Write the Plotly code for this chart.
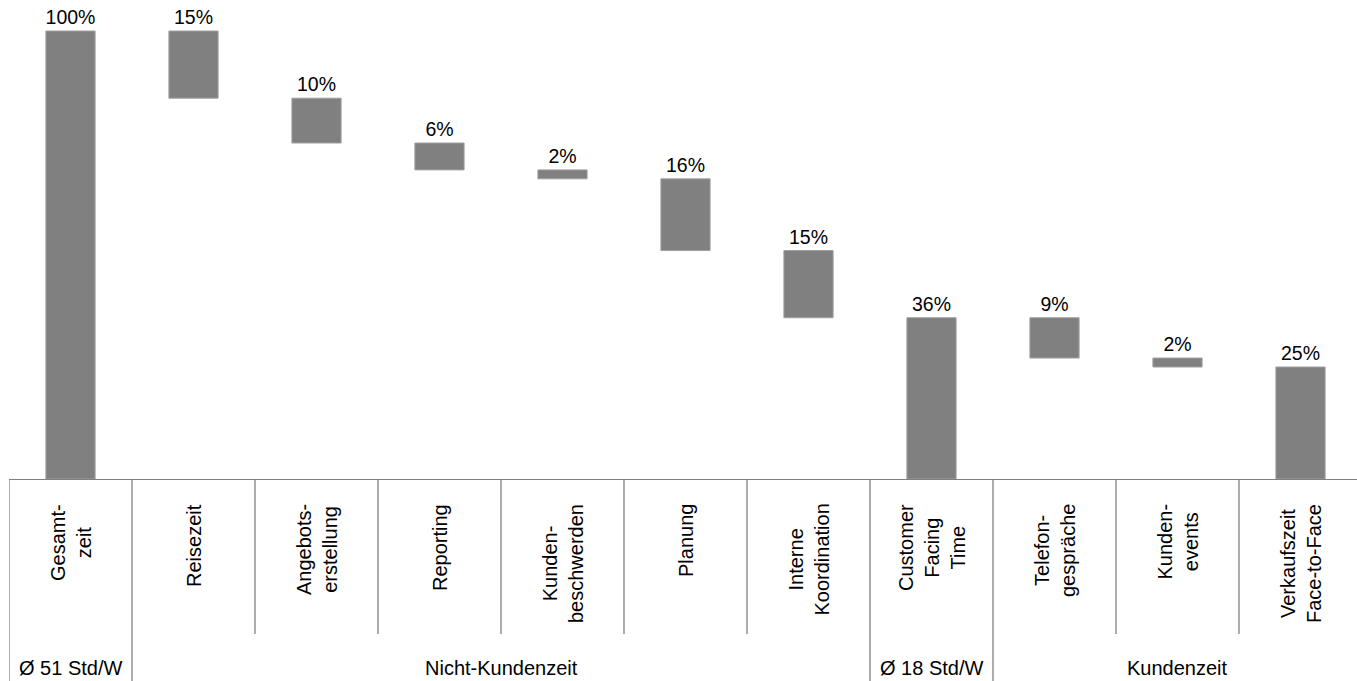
import plotly.graph_objects as go

# ---- data ----
categories = ["Gesamt-<br>zeit", "Reisezeit", "Angebots-<br>erstellung", "Reporting",
              "Kunden-<br>beschwerden", "Planung", "Interne<br>Koordination",
              "Customer<br>Facing<br>Time", "Telefon-<br>gespräche", "Kunden-<br>events",
              "Verkaufszeit<br>Face-to-Face"]
values = [100, 15, 10, 6, 2, 16, 15, 36, 9, 2, 25]
measures = ["total", "relative", "relative", "relative", "relative", "relative", "relative",
            "total", "relative", "relative", "total"]
group_labels = ["Ø 51 Std/W", "Nicht-Kundenzeit", "Ø 18 Std/W", "Kundenzeit"]
group_first = [0, 1, 7, 8]
group_last = [0, 6, 7, 10]

# ---- waterfall bases (hanging decrements) ----
bases, heights = [], []
level = 0
for v, m in zip(values, measures):
    if m == "total":
        bases.append(0)
        heights.append(v)
        level = v
    else:
        bases.append(level - v)
        heights.append(v)
        level -= v

W, H = 1357, 681
axis_px = 479          # pixel row of the baseline
top_px = 31            # pixel row of 100%
px_per_unit = (axis_px - top_px) / 100.0
ymax = axis_px / px_per_unit
dom0 = (H - axis_px) / H

FONT = "Liberation Sans, Arial, sans-serif"
FS_CAT = 20
FS_VAL = 19.5
GRAY = "#808080"

x = list(range(len(categories)))
fig = go.Figure()
fig.add_trace(go.Bar(
    x=x, y=heights, base=bases,
    marker=dict(color=GRAY, line=dict(color="#a0a0a0", width=1)),
    text=[f"{v}%" for v in values], textposition="outside",
    constraintext="none", cliponaxis=False,
    textfont=dict(family=FONT, size=FS_VAL, color="#000000"),
    hoverinfo="skip",
))

shapes = []
full_bounds = set()
for f, l in zip(group_first, group_last):
    full_bounds.add(f - 0.5)
    full_bounds.add(l + 0.5)
for i in range(len(categories) + 1):
    b = i - 0.5
    y_end = 0 if b in full_bounds else (H - 634) / H
    shapes.append(dict(type="line", xref="x", yref="paper", x0=b, x1=b,
                       y0=dom0, y1=y_end, line=dict(color=GRAY, width=1.3)))

annotations = []
for i, c in enumerate(categories):
    annotations.append(dict(x=i, y=(H - 502) / H, xref="x", yref="paper",
                            text=c, textangle=-90, showarrow=False,
                            xanchor="center", yanchor="top", align="center",
                            font=dict(family=FONT, size=FS_CAT, color="#000000")))
for g, f, l in zip(group_labels, group_first, group_last):
    annotations.append(dict(x=(f + l) / 2, y=(H - 668) / H, xref="x", yref="paper",
                            text=g, showarrow=False, xanchor="center", yanchor="middle",
                            font=dict(family=FONT, size=FS_CAT, color="#000000")))

left = 9
cat_px = 123
fig.update_layout(
    width=W, height=H,
    margin=dict(l=left, r=0, t=0, b=0),
    paper_bgcolor="white", plot_bgcolor="white",
    bargap=0.6, showlegend=False,
    xaxis=dict(range=[-0.5, -0.5 + (W - left) / cat_px], showticklabels=False,
               ticks="", showgrid=False, zeroline=False,
               showline=True, linecolor=GRAY, linewidth=1.3),
    yaxis=dict(range=[0, ymax], domain=[dom0, 1], visible=False,
               showgrid=False, zeroline=False),
    shapes=shapes, annotations=annotations,
)
fig.write_html("out.html")
